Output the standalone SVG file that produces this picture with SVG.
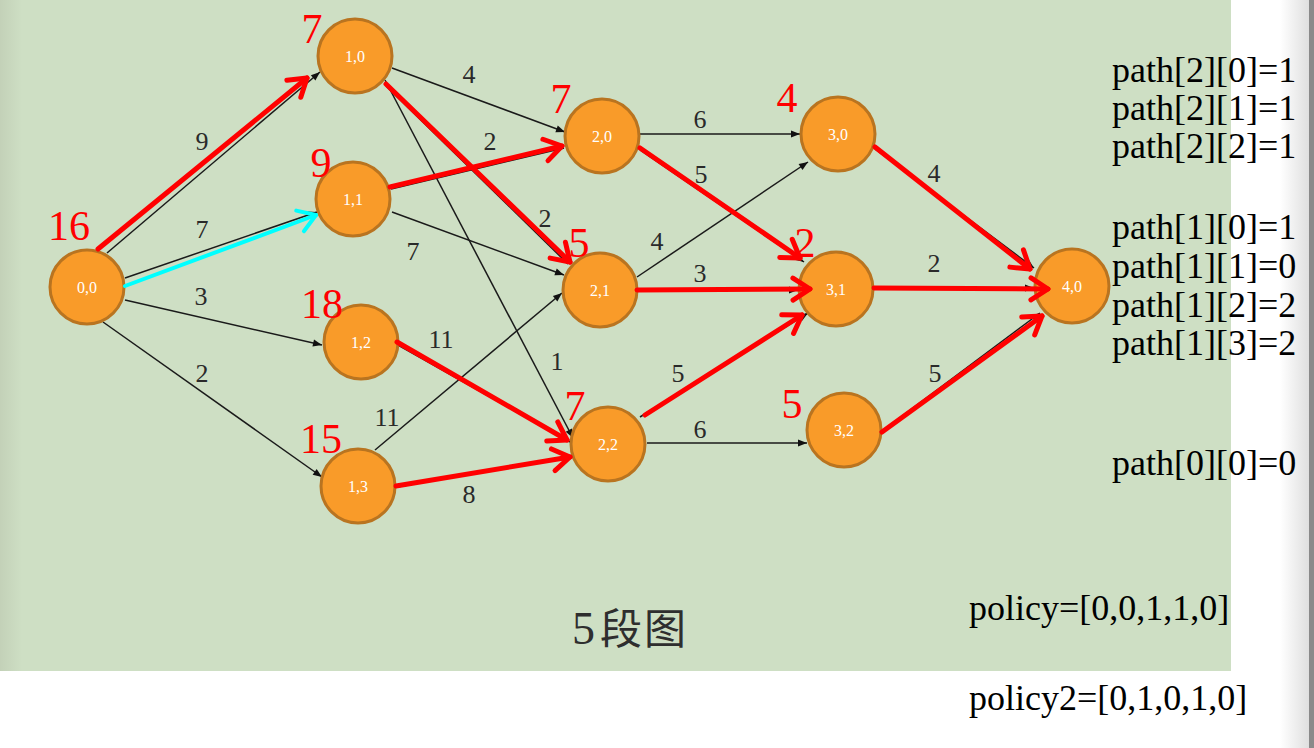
<svg xmlns="http://www.w3.org/2000/svg" width="1314" height="748" viewBox="0 0 1314 748">
<defs>
<linearGradient id="lg" x1="0" y1="0" x2="1" y2="0">
<stop offset="0" stop-color="#c3d1b8"/><stop offset="1" stop-color="#cedfc4"/>
</linearGradient>
<linearGradient id="rg" x1="0" y1="0" x2="1" y2="0">
<stop offset="0" stop-color="#ffffff"/><stop offset="1" stop-color="#dedede"/>
</linearGradient>
<marker id="ah" markerUnits="userSpaceOnUse" markerWidth="12" markerHeight="10" viewBox="-10 -5 12 10" refX="0" refY="0" orient="auto">
<path d="M-9,-3.5 L0,0 L-9,3.5 z" fill="#111"/>
</marker>
<marker id="rh" markerUnits="userSpaceOnUse" markerWidth="30" markerHeight="30" viewBox="-24 -15 30 30" refX="0" refY="0" orient="auto" overflow="visible">
<path d="M-17,-11 L0,0 L-17,11" fill="none" stroke="#ff0000" stroke-width="5" stroke-linecap="round" stroke-linejoin="round"/>
</marker>
<marker id="ch" markerUnits="userSpaceOnUse" markerWidth="30" markerHeight="30" viewBox="-24 -15 30 30" refX="0" refY="0" orient="auto" overflow="visible">
<path d="M-17,-11 L0,0 L-17,11" fill="none" stroke="#00ffff" stroke-width="4" stroke-linecap="round" stroke-linejoin="round"/>
</marker>
</defs>
<style>
.e{stroke:#1a1a1a;stroke-width:1.5;fill:none;marker-end:url(#ah)}
.r{stroke:#ff0000;stroke-width:5;fill:none;stroke-linecap:round;marker-end:url(#rh)}
.c{stroke:#00ffff;stroke-width:4;fill:none;stroke-linecap:round;marker-end:url(#ch)}
.n circle{fill:#f99b29;stroke:#b97420;stroke-width:3}
.n text{font-family:"Liberation Serif",serif;font-size:16px;fill:#fff;text-anchor:middle}
.w{font-family:"Liberation Serif",serif;font-size:26px;fill:#2a2a2a;text-anchor:middle}
.v{font-family:"Liberation Serif",serif;font-size:42px;fill:#ff0000;text-anchor:middle}
.t{font-family:"Liberation Serif",serif;font-size:36px;fill:#000}
</style>
<rect x="0" y="0" width="1314" height="748" fill="#ffffff"/>
<rect x="1280" y="0" width="30" height="748" fill="url(#rg)"/>
<rect x="1309" y="0" width="5" height="748" fill="#8a8a8a"/>
<rect x="0" y="0" width="1231" height="671" fill="#cedfc4"/>
<rect x="0" y="0" width="22" height="671" fill="url(#lg)"/>

<g id="connectors">
<line class="e" x1="107" y1="253" x2="320" y2="72"/>
<line class="e" x1="125" y1="278" x2="317" y2="212"/>
<line class="e" x1="125" y1="300" x2="322" y2="345"/>
<line class="e" x1="103" y1="322" x2="322" y2="477"/>
<line class="e" x1="392" y1="68" x2="565" y2="132"/>
<line class="e" x1="386" y1="86" x2="568" y2="264"/>
<line class="e" x1="385" y1="80" x2="573" y2="438"/>
<line class="e" x1="391" y1="189" x2="564" y2="148"/>
<line class="e" x1="392" y1="212" x2="564" y2="275"/>
<line class="e" x1="398" y1="345" x2="570" y2="442"/>
<line class="e" x1="375" y1="450" x2="562" y2="293"/>
<line class="e" x1="397" y1="487" x2="571" y2="456"/>
<line class="e" x1="640" y1="134" x2="800" y2="134"/>
<line class="e" x1="640" y1="150" x2="804" y2="262"/>
<line class="e" x1="637" y1="277" x2="808" y2="162"/>
<line class="e" x1="637" y1="290" x2="798" y2="290"/>
<line class="e" x1="640" y1="417" x2="808" y2="313"/>
<line class="e" x1="647" y1="443" x2="807" y2="443"/>
<line class="e" x1="875" y1="149" x2="1034" y2="268"/>
<line class="e" x1="875" y1="289" x2="1034" y2="288"/>
<line class="e" x1="882" y1="431" x2="1040" y2="313"/>
</g>

<g id="n00" class="n"><circle cx="87" cy="287" r="37"/><text x="87" y="292.5">0,0</text></g>
<g id="n10" class="n"><circle cx="355" cy="56" r="37"/><text x="355" y="61.5">1,0</text></g>
<g id="n11" class="n"><circle cx="353" cy="199" r="37"/><text x="353" y="204.5">1,1</text></g>
<g id="n12" class="n"><circle cx="361" cy="342" r="37"/><text x="361" y="347.5">1,2</text></g>
<g id="n13" class="n"><circle cx="358" cy="486" r="37"/><text x="358" y="491.5">1,3</text></g>
<g id="n20" class="n"><circle cx="602" cy="136" r="37"/><text x="602" y="141.5">2,0</text></g>
<g id="n21" class="n"><circle cx="600" cy="290" r="37"/><text x="600" y="295.5">2,1</text></g>
<g id="n22" class="n"><circle cx="608" cy="444" r="37"/><text x="608" y="449.5">2,2</text></g>
<g id="n30" class="n"><circle cx="838" cy="134" r="37"/><text x="838" y="139.5">3,0</text></g>
<g id="n31" class="n"><circle cx="836" cy="289" r="37"/><text x="836" y="294.5">3,1</text></g>
<g id="n32" class="n"><circle cx="844" cy="430" r="37"/><text x="844" y="435.5">3,2</text></g>
<g id="n40" class="n"><circle cx="1072" cy="286" r="37"/><text x="1072" y="291.5">4,0</text></g>

<g id="highlight">
<line class="r" x1="98" y1="249" x2="307" y2="78"/>
<line class="c" x1="125" y1="286" x2="316" y2="215"/>
<line class="r" x1="390" y1="187" x2="562" y2="146"/>
<line class="r" x1="386" y1="84" x2="570" y2="262"/>
<line class="r" x1="397" y1="342" x2="567" y2="440"/>
<line class="r" x1="396" y1="486" x2="570" y2="457"/>
<line class="r" x1="640" y1="148" x2="800" y2="258"/>
<line class="r" x1="637" y1="290" x2="810" y2="289"/>
<line class="r" x1="645" y1="415" x2="802" y2="315"/>
<line class="r" x1="875" y1="147" x2="1030" y2="269"/>
<line class="r" x1="874" y1="288" x2="1048" y2="289"/>
<line class="r" x1="882" y1="432" x2="1042" y2="316"/>
</g>

<g id="weights">
<text class="w" x="202" y="150">9</text>
<text class="w" x="202" y="238">7</text>
<text class="w" x="201" y="305">3</text>
<text class="w" x="202" y="382">2</text>
<text class="w" x="469" y="83">4</text>
<text class="w" x="490" y="150">2</text>
<text class="w" x="545" y="227">2</text>
<text class="w" x="413" y="260">7</text>
<text class="w" x="700" y="128">6</text>
<text class="w" x="701" y="183">5</text>
<text class="w" x="657" y="250">4</text>
<text class="w" x="700" y="282">3</text>
<text class="w" x="441" y="348">11</text>
<text class="w" x="387" y="426">11</text>
<text class="w" x="557" y="370">1</text>
<text class="w" x="678" y="382">5</text>
<text class="w" x="700" y="438">6</text>
<text class="w" x="469" y="503">8</text>
<text class="w" x="934" y="182">4</text>
<text class="w" x="934" y="272">2</text>
<text class="w" x="935" y="382">5</text>
</g>

<g id="values">
<text class="v" x="69" y="240">16</text>
<text class="v" x="312" y="43">7</text>
<text class="v" x="321" y="177">9</text>
<text class="v" x="322" y="318">18</text>
<text class="v" x="321" y="453">15</text>
<text class="v" x="561" y="113">7</text>
<text class="v" x="579" y="257">5</text>
<text class="v" x="787" y="112">4</text>
<text class="v" x="805" y="257">2</text>
<text class="v" x="575" y="420">7</text>
<text class="v" x="792" y="418">5</text>
</g>

<g id="notes">
<text class="t" x="1112" y="82">path[2][0]=1</text>
<text class="t" x="1112" y="120">path[2][1]=1</text>
<text class="t" x="1112" y="158">path[2][2]=1</text>
<text class="t" x="1112" y="239">path[1][0]=1</text>
<text class="t" x="1112" y="278">path[1][1]=0</text>
<text class="t" x="1112" y="317">path[1][2]=2</text>
<text class="t" x="1112" y="355">path[1][3]=2</text>
<text class="t" x="1112" y="475">path[0][0]=0</text>
<text class="t" x="969" y="620">policy=[0,0,1,1,0]</text>
<text class="t" x="969" y="710">policy2=[0,1,0,1,0]</text>
</g>

<g id="title">
<text x="572" y="644" fill="#2e2e2e" font-family="Liberation Serif" font-size="46">5</text>
<text x="600" y="644" fill="#2e2e2e" font-family="Noto Sans CJK SC" font-size="42" letter-spacing="2">段图</text>
</g>
</svg>
